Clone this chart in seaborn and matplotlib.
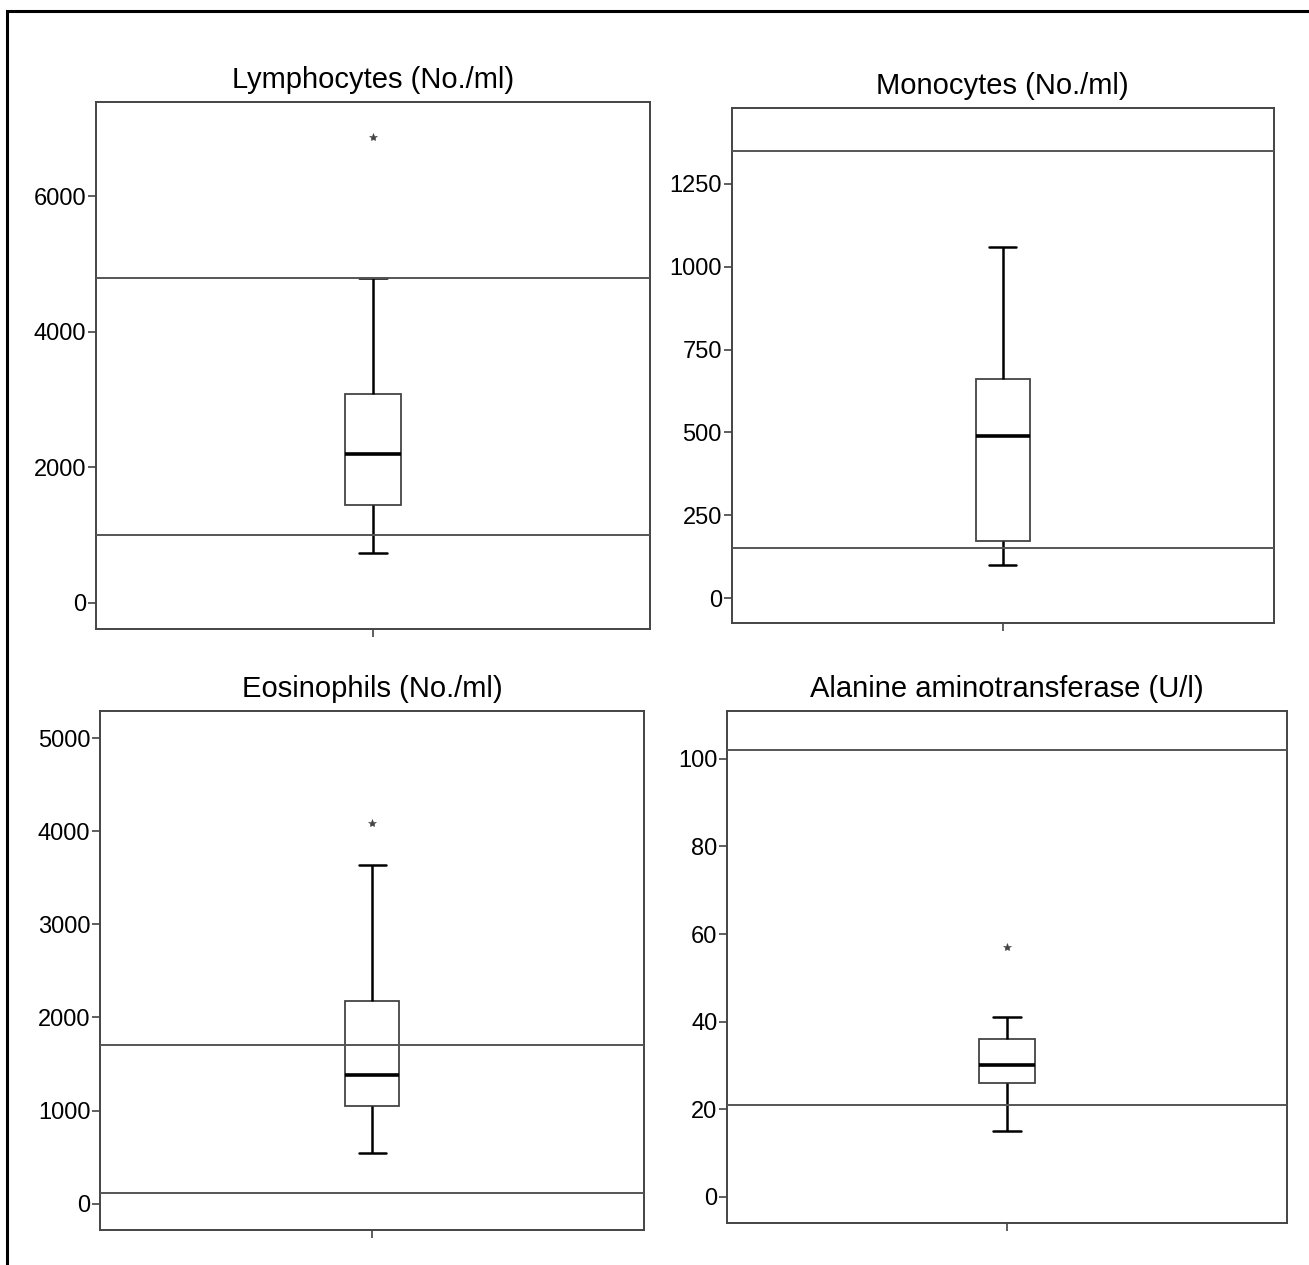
import numpy as np
import pandas as pd
import seaborn as sns
import matplotlib.pyplot as plt
from matplotlib.patches import Rectangle

# valores (cada lista da los cuartiles, bigotes y atipicos)
lymphocytes = [740, 1440, 1440, 1440, 2200, 2200, 2200, 3075, 3075, 3075, 4800, 4800, 6870]
monocytes = [100, 173, 173, 173, 488, 488, 488, 660, 660, 660, 1060, 1060, 1060]
eosinophils = [544, 1053, 1053, 1053, 1378, 1378, 1378, 2175, 2175, 2175, 3640, 3640, 4090]
alt = [15, 26, 26, 26, 30, 30, 30, 36, 36, 36, 41, 41, 57]

titles = ["Lymphocytes (No./ml)", "Monocytes (No./ml)",
          "Eosinophils (No./ml)", "Alanine aminotransferase (U/l)"]
ref_lines = [(1000, 4800), (150, 1350), (110, 1700), (21, 102)]
y_ticks = [[0, 2000, 4000, 6000],
           [0, 250, 500, 750, 1000, 1250],
           [0, 1000, 2000, 3000, 4000, 5000],
           [0, 20, 40, 60, 80, 100]]
y_lims = [(-392, 7392), (-76, 1479), (-280, 5290), (-5.9, 111)]

series = [lymphocytes, monocytes, eosinophils, alt]

sns.set_theme(style="ticks")
plt.rcParams['font.family'] = ['Liberation Sans', 'DejaVu Sans']

W, H = 1309, 1265
fig = plt.figure(figsize=(W / 100, H / 100), dpi=100)

# cajas de cada panel en pixeles: izquierda, derecha, arriba, abajo
boxes_px = [(95.7, 650, 102, 629.3),
            (731.7, 1273.7, 108, 623.3),
            (100, 644.3, 711, 1229.7),
            (727.3, 1287.3, 710.7, 1222.7)]

for i, (vals, title) in enumerate(zip(series, titles)):
    l, r, t, b = boxes_px[i]
    ax = fig.add_axes([l / W, 1 - b / H, (r - l) / W, (b - t) / H])
    df = pd.DataFrame({"valor": vals})
    sns.boxplot(
        data=df, y="valor", ax=ax, width=0.1, color="white",
        linecolor="black", whis=1.5,
        boxprops=dict(facecolor="white", edgecolor="#444444", linewidth=1.3),
        whiskerprops=dict(color="black", linewidth=1.8),
        capprops=dict(color="black", linewidth=1.8),
        medianprops=dict(color="black", linewidth=2.6),
        flierprops=dict(marker="*", markersize=6, markerfacecolor="#444444",
                        markeredgecolor="#444444", markeredgewidth=0.4),
    )
    for v in ref_lines[i]:
        ax.axhline(v, color="#555555", linewidth=1.4, zorder=5)
    ax.set_xlim(-0.5, 0.5)
    ax.set_ylim(*y_lims[i])
    ax.set_yticks(y_ticks[i])
    ax.set_yticklabels([str(v) for v in y_ticks[i]])
    ax.set_xticks([0])
    ax.set_xticklabels([""])
    ax.set_xlabel("")
    ax.set_ylabel("")
    ax.tick_params(axis="both", direction="out", length=6, width=1.1,
                   color="#333333", labelsize=17, pad=1, labelcolor="black")
    for sp in ax.spines.values():
        sp.set_visible(True)
        sp.set_color("#444444")
        sp.set_linewidth(1.4)
    ax.set_title(title, fontsize=21, pad=10, color="black")

# marco exterior (solo se ven los lados izquierdo y superior)
fig.add_artist(Rectangle((6.5 / W, -0.1), 1.2, 1.1 - 11 / H,
                         transform=fig.transFigure, fill=False,
                         edgecolor="black", linewidth=2.2, clip_on=False))

fig.savefig("out.png", dpi=100, facecolor="white")
